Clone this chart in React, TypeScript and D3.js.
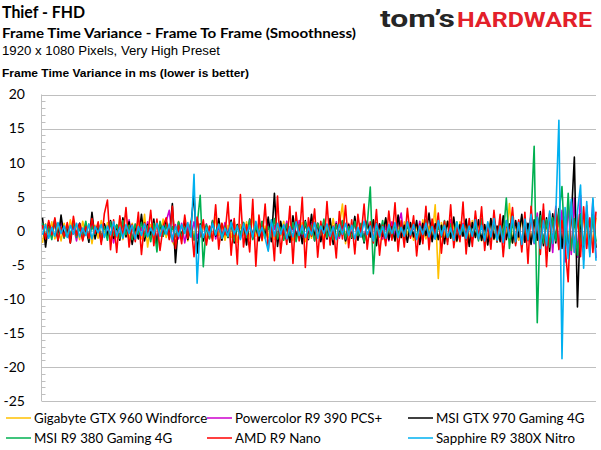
import React, { useEffect, useRef } from 'react';
import * as d3 from 'd3';

// frame-to-frame variance (ms), ~180 samples per card
const gigabyte960 = [
  -1.8, 1.0, -0.7, 1.3, -1.2, 0.6, -1.5, 1.1, -0.8, 1.6, -0.5, 0.9, -1.3, 1.4, -0.6, 1.0, -1.9, 0.8, -1.1, 1.5,
  -0.9, 1.2, -1.6, 0.7, -1.0, 1.8, -1.3, 0.6, -1.4, 1.1, -0.7, 1.5, -1.2, 2.4, -2.4, 0.9, -1.1, 1.3, -0.8, 1.7,
  -1.0, 0.8, -1.6, -2.4, 1.4, -0.9, 1.2, -1.5, 0.7, -1.1, 1.6, -0.8, 1.0, -1.3, 0.6, -1.2, 1.9, -0.7, 1.1, -1.4,
  0.8, -1.0, 1.5, -1.7, 0.9, -0.6, 1.3, -1.2, 2.0, -0.8, 1.1, -1.5, 0.7, -1.0, 1.6, -1.3, 0.9, -0.7, 1.4, -1.1,
  0.6, -1.4, 1.7, -0.9, 1.2, -1.6, 0.8, -1.1, 1.3, -0.7, 1.0, -1.5, 0.9, -1.2, 1.8, -1.0, 0.7, 3.9, -1.9, 1.1,
  -0.8, 1.4, -1.2, 0.6, -1.6, 1.0, -0.9, 1.5, -1.1, 0.8, -1.3, 1.7, -0.7, 1.2, -1.5, 0.9, -1.0, 1.3, -0.6, 1.1,
  -1.4, 0.8, -1.0, 1.6, -1.2, 0.7, -0.9, 3.8, -7.0, 1.2, -0.8, 1.4, -1.1, 0.9, -1.6, 1.3, -0.7, 1.0, -1.2, 1.5,
  -0.9, 1.1, -1.5, 0.8, -1.0, 1.7, -1.3, 0.6, -1.1, 1.4, -0.8, 4.0, -1.8, 1.2, -1.4, 2.0, -1.0, 0.9, -1.6, 1.3,
  -1.2, 1.6, -1.9, 1.1, -1.5, 2.1, -1.3, 1.4, -2.2, 1.8, -1.6, 2.4, -2.0, 1.5, -1.8, 2.2, -1.4, 1.7, -2.1, 1.9,
];

const powercolor390 = [
  0.9, -1.3, 0.6, -0.8, 1.2, -1.0, 1.5, -0.7, 0.5, -1.2, 0.8, -1.5, 1.1, -0.6, 0.9, -1.1, 1.3, -0.9, 0.7, -1.4,
  1.0, -0.6, 1.4, -1.8, 0.8, -1.0, 1.2, -0.7, 1.6, -1.3, 0.9, -1.1, 0.5, -0.9, 1.3, -1.2, 0.7, -1.5, 1.1, -0.8,
  1.4, 3.0, -1.6, 0.9, -1.2, 1.1, -1.8, 0.7, -0.9, 1.3, -1.1, 0.6, -1.4, 1.0, -0.8, 1.5, -1.2, 0.7, -1.0, 1.2,
  -0.7, 1.6, -1.3, 0.9, -1.1, 0.6, -1.5, 1.2, -0.8, 1.0, -1.4, 0.7, -0.9, 1.3, -1.2, 0.8, -1.6, 1.1, -0.6, 1.4,
  -1.0, 0.7, -1.3, 1.5, -0.9, 1.1, -0.6, 1.2, -1.5, 0.8, -1.0, 1.4, -1.2, 0.6, -0.8, 1.3, -1.1, 0.9, -1.4, 1.0,
  -0.7, 1.2, -1.0, 0.8, -1.3, 1.5, -0.9, 1.1, -0.6, 1.0, -1.2, 0.7, -1.5, 1.3, -0.8, 0.9, 2.6, -1.4, 1.1, -0.9,
  0.7, -1.2, 1.4, -0.8, 1.0, -1.5, 0.9, -1.1, 1.3, -0.7, 0.8, -1.3, 1.6, -1.0, 0.6, -1.2, 1.1, -0.9, 1.5, -1.4,
  0.8, -1.1, 1.3, -1.6, 1.0, -0.9, 1.7, -1.3, 1.2, -1.8, 1.5, -1.0, 2.0, -1.6, 1.4, -2.1, 1.8, -1.5, 2.3, -1.9,
  2.6, -2.2, 3.1, -2.7, 2.4, -3.2, 3.6, -2.8, 3.0, -4.6, 4.1, -3.5, 4.8, -3.9, 5.2, -4.3, 3.7, -3.4, 4.5, -4.0,
];

const msi970 = [
  1.9, -2.4, 1.2, -0.8, 1.6, -1.5, 2.3, -1.0, 0.7, -1.8, 1.4, -0.6, 1.1, -1.3, 0.5, -1.7, 2.7, -1.2, 0.9, -1.6,
  1.0, -0.7, 1.5, -1.1, 0.8, -1.4, 1.9, -0.9, 1.3, -2.0, 0.6, -1.2, 2.4, -1.5, 0.9, -0.6, 1.7, -2.2, 1.1, -0.8,
  1.4, -1.0, 4.0, -4.7, 1.2, -0.9, 1.6, -1.3, 0.8, 5.4, -3.3, 1.0, -1.5, 0.7, -1.1, 1.3, -0.8, 1.8, -1.4, 0.6,
  -1.0, 1.5, -1.8, 0.9, -0.7, 1.2, -2.1, 1.7, -1.1, 0.8, -1.5, 1.3, -0.9, 2.0, -1.6, 5.5, -2.3, 1.4, -1.2, 0.7,
  -1.7, 2.2, -1.0, 0.8, -1.9, 1.5, -1.3, 2.4, -0.9, 1.1, -1.6, 0.7, -1.2, 1.8, -2.0, 1.0, -0.6, 1.4, -1.5, 0.9,
  -1.1, 2.1, -1.4, 0.7, -1.8, 1.3, -0.9, 1.6, -2.2, 1.0, -0.8, 1.9, -1.3, 0.6, -1.5, 2.3, -1.0, 0.8, -1.7, 1.2,
  -0.9, 1.5, -2.0, 1.1, -0.7, 2.6, -1.6, 1.0, -1.3, 0.8, -1.9, 1.4, -1.1, 2.0, -1.5, 0.9, -0.8, 1.7, -2.3, 1.2,
  -1.0, 1.6, -1.4, 0.9, -2.1, 1.8, -1.2, 0.7, -1.6, 2.2, -1.3, 1.0, -1.8, 1.5, -0.9, 2.4, -1.7, 1.1, -2.0, 1.6,
  -1.4, 2.8, -2.2, 1.9, -3.0, 2.5, -1.8, 3.2, -2.6, 2.0, -2.9, 1.7, 10.8, -11.2, 2.4, -3.1, 2.7, -2.2, 3.0, -2.5,
];

const msi380 = [
  1.1, -0.8, 0.6, -1.3, 1.7, -0.9, 0.5, -1.1, 0.8, -0.6, 1.2, -1.0, 0.4, -0.8, 1.4, -1.2, 0.7, -0.5, 1.0, -0.9,
  0.6, -1.4, 1.3, -0.7, 0.9, -1.1, 1.5, -0.6, 0.8, -1.3, 1.0, -0.5, 1.2, -0.9, 0.7, -1.6, 1.1, -3.1, 1.4, -0.8,
  0.9, -1.2, 0.6, -0.9, 1.3, -1.0, 0.5, -0.7, 1.1, -1.4, 0.8, 5.2, -5.3, 0.9, -1.2, 1.5, -0.6, 1.0, -1.1, 0.7,
  -0.9, 1.3, -1.5, 0.8, -0.6, 1.2, -1.0, 1.6, -1.3, 0.7, -0.8, 1.4, -1.1, 0.6, -0.9, 1.8, -1.2, 0.5, -1.4, 1.0,
  -0.7, 1.2, -1.6, 0.9, -0.5, 1.3, -1.1, 0.8, -1.5, 1.1, -0.6, 1.7, -1.0, 0.7, -1.3, 0.9, -0.8, 1.5, -1.2, 0.6,
  -1.0, 1.4, -0.7, 1.1, -1.6, 0.8, 6.4, -6.3, 1.2, -0.9, 1.5, -1.3, 0.7, -1.1, 1.0, -0.6, 1.3, -1.5, 0.9, -0.8,
  1.2, -1.0, 0.6, -1.4, 1.6, -0.8, 1.1, -1.2, 0.7, -0.9, 1.5, -1.6, 1.0, -0.5, 1.3, -1.1, 0.8, -1.4, 1.2, -0.7,
  0.9, -1.5, 1.8, -1.0, 0.6, -1.3, 1.4, -1.7, 1.1, -0.8, 4.8, -2.6, 1.5, -1.9, 1.2, -2.3, 1.7, -1.4, 2.0, 12.4,
  -13.5, 2.2, -1.8, 1.6, -2.4, 1.9, -1.5, 2.6, 6.5, -3.2, 5.5, -2.9, 1.8, -3.6, 2.4, -2.1, 1.7, -2.8, 2.2, -1.6,
];

const amdNano = [
  0.8, -1.2, 1.5, -0.6, 1.9, -1.4, 0.5, -0.9, 1.2, -1.8, 2.1, -0.7, 1.0, -1.5, 0.6, -1.1, 1.8, -0.4, 1.3, -2.0,
  2.5, 4.5, -2.8, 1.6, -3.2, 2.2, -1.0, 3.4, -2.4, 0.9, -1.6, 2.7, -3.5, 1.2, -0.8, 3.0, -2.2, 1.7, -2.9, 0.6,
  1.9, -1.3, 3.6, -2.6, 0.8, -1.9, 2.3, -1.1, 1.4, -3.8, 2.0, -0.9, 1.6, -2.1, 0.7, -1.5, 3.8, -2.7, 1.1, -0.6,
  4.2, -3.6, 1.8, -4.9, 5.3, -2.4, 0.9, -3.1, 4.6, -5.2, 2.3, -1.4, 3.9, -2.8, 1.2, -4.4, 5.1, -3.3, 0.8, -2.0,
  3.6, -4.8, 2.7, -1.5, 4.9, -5.4, 1.9, -0.8, 3.2, -3.9, 1.4, -2.6, 4.3, -2.1, 0.7, -4.0, 2.8, -1.2, 3.7, -2.5,
  1.6, -3.4, 2.4, -0.9, 3.9, -2.7, 1.3, -1.8, 3.1, -3.6, 0.8, -2.2, 2.9, -1.4, 4.1, -3.0, 1.5, -2.4, 3.3, -1.1,
  2.2, -3.7, 1.0, -1.9, 3.6, -2.8, 1.7, -0.9, 2.6, -3.3, 1.4, -2.0, 3.8, -2.5, 0.9, -1.6, 4.2, -3.4, 1.8, -2.3,
  2.9, -1.2, 3.5, -2.9, 1.1, -2.7, 3.0, -1.6, 2.4, -3.8, 1.3, -0.8, 3.4, -2.2, 1.6, -3.1, 2.7, -4.8, 3.6, -1.4,
  2.0, -3.5, 3.9, -5.3, 2.6, -1.9, 3.3, -2.7, 1.5, -2.4, -7.5, 4.2, -3.1, 2.4, -3.8, 3.5, -2.6, 1.9, -3.2, 2.8,
];

const sapphire380x = [
  -0.6, 0.9, -1.1, 0.5, -0.8, 1.2, -0.4, 0.7, -1.0, 0.8, -0.5, 1.1, -0.9, 0.4, -0.7, 1.0, -1.2, 0.6, -0.3, 0.9,
  -1.0, 0.7, -0.6, 1.3, -0.8, 0.5, -1.1, 0.9, -0.4, 0.8, -1.2, 0.6, -0.7, 1.0, -0.9, 0.4, -0.6, 1.1, -0.8, 0.7,
  -0.5, 1.0, -1.3, 0.6, -0.8, 0.9, -0.4, 1.2, -0.9, 8.3, -7.7, 0.8, -1.0, 0.5, -0.7, 1.1, -0.6, 0.9, -1.1, 0.4,
  -0.8, 1.2, -0.5, 0.7, -1.3, 1.0, -0.6, 0.8, -0.9, 1.4, -0.7, 0.5, -1.1, -3.0, 1.6, -0.8, 1.1, -0.5, 0.9, -1.2,
  0.6, -0.9, 1.3, -0.7, 0.8, -1.0, 0.5, -0.6, 1.2, -1.1, 0.7, -0.4, 1.0, -0.8, 0.6, -1.3, 0.9, -0.5, 1.1, -0.7,
  0.8, -1.2, 0.5, -0.9, 1.4, -0.6, 0.7, -1.5, 1.0, -0.8, 0.6, -1.1, 0.9, -0.4, 1.2, -1.0, 0.5, -0.8, 1.3, -0.6,
  0.9, -1.3, 0.7, -0.5, 1.1, -0.9, 0.6, -1.2, 1.5, -0.7, 0.8, -1.0, 0.4, -1.4, 1.2, -0.6, 0.9, -1.1, 0.7, -0.8,
  1.6, -1.2, 0.8, -1.5, 1.3, -0.9, 1.8, -1.4, 0.7, -1.7, 1.5, -1.0, 2.1, -1.6, 1.2, -2.0, 1.7, -1.3, 2.4, -1.8,
  2.0, -2.6, 1.5, -2.2, 2.9, -1.9, 2.5, 16.2, -18.8, 3.4, -4.1, 4.6, -3.2, 2.8, 6.7, -5.5, 4.3, -3.8, 4.8, -4.4,
];

const seriesNames = [
  'Gigabyte GTX 960 Windforce',
  'Powercolor R9 390 PCS+',
  'MSI GTX 970 Gaming 4G',
  'MSI R9 380 Gaming 4G',
  'AMD R9 Nano',
  'Sapphire R9 380X Nitro',
];
const seriesValues = [gigabyte960, powercolor390, msi970, msi380, amdNano, sapphire380x];
const seriesColors = ['#FFC000', '#CC00CC', '#000000', '#00B050', '#FF0000', '#00B0F0'];

const yTicks = [20, 15, 10, 5, 0, -5, -10, -15, -20, -25];

const App: React.FC = () => {
  const svgRef = useRef<SVGSVGElement>(null);

  useEffect(() => {
    if (!svgRef.current) return;
    const svg = d3.select(svgRef.current);
    svg.selectAll('*').remove();

    const left = 41.5;
    const right = 596;
    const top = 94.5;
    const bottom = 401;

    const n = d3.max(seriesValues, s => s.length) as number;
    const x = d3.scaleLinear().domain([0, n - 1]).range([left + 1, right]);
    const y = d3.scaleLinear().domain([-25, 20]).range([bottom, top]);

    // header
    svg.append('text')
      .attr('x', 2).attr('y', 18)
      .attr('font-family', 'Lato, sans-serif').attr('font-weight', 'bold').attr('font-size', 17)
      .attr('textLength', 83).attr('lengthAdjust', 'spacingAndGlyphs')
      .text('Thief - FHD');
    svg.append('text')
      .attr('x', 2).attr('y', 38)
      .attr('font-family', 'Lato, sans-serif').attr('font-weight', 'bold').attr('font-size', 13.5)
      .attr('textLength', 354).attr('lengthAdjust', 'spacingAndGlyphs')
      .text('Frame Time Variance - Frame To Frame (Smoothness)');
    svg.append('text')
      .attr('x', 2).attr('y', 55)
      .attr('font-family', '"Liberation Sans", Arial, sans-serif').attr('font-size', 12)
      .attr('textLength', 218).attr('lengthAdjust', 'spacingAndGlyphs')
      .text('1920 x 1080 Pixels, Very High Preset');
    svg.append('text')
      .attr('x', 2).attr('y', 77)
      .attr('font-family', '"Liberation Sans", Arial, sans-serif').attr('font-weight', 'bold').attr('font-size', 11.5)
      .attr('textLength', 247).attr('lengthAdjust', 'spacingAndGlyphs')
      .text('Frame Time Variance in ms (lower is better)');

    // logo
    svg.append('text')
      .attr('x', 380).attr('y', 27)
      .attr('font-family', 'Roboto, sans-serif').attr('font-weight', 'bold').attr('font-size', 23)
      .attr('fill', '#262626')
      .attr('textLength', 75).attr('lengthAdjust', 'spacingAndGlyphs')
      .text('tom\u2019s');
    svg.append('text')
      .attr('x', 457).attr('y', 27)
      .attr('font-family', 'Roboto, sans-serif').attr('font-weight', 'bold').attr('font-size', 21)
      .attr('fill', '#E3202A')
      .attr('textLength', 135).attr('lengthAdjust', 'spacingAndGlyphs')
      .text('HARDWARE');

    // gridlines and y labels
    const grid = svg.append('g');
    yTicks.forEach(t => {
      grid.append('line')
        .attr('x1', left).attr('x2', right)
        .attr('y1', Math.round(y(t)) + 0.5).attr('y2', Math.round(y(t)) + 0.5)
        .attr('stroke', '#BFBFBF').attr('stroke-width', 1);
      grid.append('text')
        .attr('x', 25).attr('y', y(t))
        .attr('dy', '0.35em')
        .attr('text-anchor', 'end')
        .attr('font-family', 'Lato, sans-serif').attr('font-size', 14)
        .attr('fill', '#000')
        .text(t);
    });
    // minor ticks
    d3.range(-25, 21).filter(v => v % 5 !== 0).forEach(v => {
      grid.append('line')
        .attr('x1', left).attr('x2', left + 4)
        .attr('y1', Math.round(y(v)) + 0.5).attr('y2', Math.round(y(v)) + 0.5)
        .attr('stroke', '#BFBFBF').attr('stroke-width', 1);
    });
    grid.append('line')
      .attr('x1', left).attr('x2', left)
      .attr('y1', top).attr('y2', bottom)
      .attr('stroke', '#BFBFBF').attr('stroke-width', 1);

    // series
    const line = d3.line<number>()
      .x((_, i) => x(i))
      .y(d => y(d));

    seriesValues.forEach((vals, i) => {
      svg.append('path')
        .datum(vals)
        .attr('d', line)
        .attr('fill', 'none')
        .attr('stroke', seriesColors[i])
        .attr('stroke-width', 1.6)
        .attr('stroke-linejoin', 'round');
    });

    // legend
    const colX = [6, 207, 408];
    const rowY = [418, 438];
    seriesNames.forEach((name, i) => {
      const cx = colX[i % 3];
      const cy = rowY[Math.floor(i / 3)];
      const g = svg.append('g');
      g.append('line')
        .attr('x1', cx).attr('x2', cx + 25)
        .attr('y1', cy).attr('y2', cy)
        .attr('stroke', seriesColors[i]).attr('stroke-width', 1.5);
      g.append('text')
        .attr('x', cx + 28).attr('y', cy)
        .attr('dy', '0.35em')
        .attr('font-family', 'Lato, sans-serif').attr('font-size', 13.3)
        .attr('fill', '#000')
        .text(name);
    });
  }, []);

  return (
    <svg
      ref={svgRef}
      width={601}
      height={450}
      style={{ position: 'absolute', left: 0, top: 0, background: '#fff' }}
    />
  );
};

export default App;
